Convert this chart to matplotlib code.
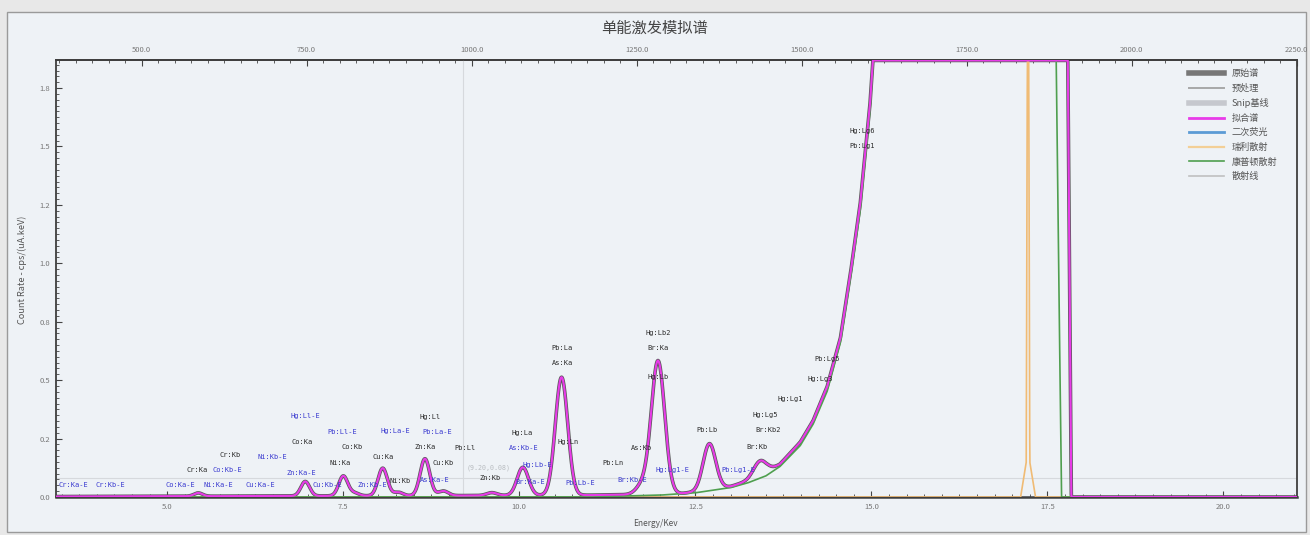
import numpy as np
import matplotlib
matplotlib.use('Agg')
import matplotlib.pyplot as plt
from matplotlib.patches import Rectangle
from matplotlib.lines import Line2D
from matplotlib.ticker import MultipleLocator, FixedLocator, FormatStrFormatter

plt.rcParams['font.family'] = ['Noto Sans CJK SC', 'DejaVu Sans']

# ---------------- data ----------------
# fitted peaks: energy (keV), height above background, width (sigma, keV)
peak_energy = [5.44, 6.96, 7.50, 7.66, 8.06, 8.28, 8.66, 8.92, 9.61, 10.05, 10.60, 11.75, 11.97, 12.70, 13.42]
peak_height = [0.014, 0.062, 0.085, 0.012, 0.118, 0.015, 0.158, 0.020, 0.012, 0.120, 0.505, 0.040, 0.570, 0.200, 0.065]
peak_sigma = [0.060, 0.062, 0.064, 0.064, 0.066, 0.066, 0.068, 0.070, 0.072, 0.080, 0.088, 0.090, 0.095, 0.090, 0.095]

# continuum under the peaks (keV, cps/(uA.keV))
bg_energy = [3.42, 9.0, 11.0, 12.0, 12.3, 12.75, 13.0, 13.24, 13.5, 13.70, 13.99, 14.17, 14.37,
             14.56, 14.70, 14.84, 14.98, 15.05, 15.2, 17.76, 17.84, 21.05]
bg_value = [0.002, 0.006, 0.008, 0.012, 0.015, 0.030, 0.045, 0.068, 0.100, 0.140, 0.235, 0.325, 0.470,
            0.680, 0.950, 1.250, 1.680, 2.000, 3.000, 3.000, 0.000, 0.000]

# Compton scattering
compton_energy = [3.42, 11.0, 12.0, 12.5, 13.0, 13.24, 13.5, 13.70, 13.99, 14.17, 14.37, 14.56,
                  14.70, 14.84, 14.98, 15.05, 15.2, 17.58, 17.70, 21.05]
compton_value = [0.0, 0.0, 0.008, 0.018, 0.040, 0.060, 0.090, 0.130, 0.220, 0.310, 0.450, 0.660,
                 0.930, 1.220, 1.650, 2.000, 3.000, 3.000, 0.000, 0.000]

# Rayleigh scattering
rayleigh_energy = [3.42, 17.12, 17.20, 17.225, 17.25, 17.33, 21.05]
rayleigh_value = [0.0, 0.0, 0.15, 3.0, 0.15, 0.0, 0.0]

# element line labels (black)
line_names = ['Cr:Ka', 'Cr:Kb', 'Co:Ka', 'Ni:Ka', 'Co:Kb', 'Cu:Ka', 'Ni:Kb', 'Zn:Ka', 'Hg:Ll', 'Cu:Kb',
              'Pb:Ll', 'Zn:Kb', 'Hg:La', 'Pb:La', 'As:Ka', 'Hg:Ln', 'Pb:Ln', 'As:Kb', 'Hg:Lb2', 'Br:Ka',
              'Hg:Lb', 'Pb:Lb', 'Br:Kb', 'Br:Kb2', 'Hg:Lg5', 'Hg:Lg1', 'Pb:Lg5', 'Hg:Lg3', 'Hg:Lg6', 'Pb:Lg1']
line_label_e = [5.42, 5.89, 6.91, 7.45, 7.62, 8.06, 8.31, 8.66, 8.73, 8.92,
                9.23, 9.58, 10.04, 10.61, 10.61, 10.70, 11.33, 11.74, 11.97, 11.97,
                11.97, 12.67, 13.38, 13.53, 13.49, 13.85, 14.37, 14.27, 14.87, 14.87]
line_label_y = [0.116, 0.180, 0.235, 0.145, 0.214, 0.171, 0.068, 0.214, 0.342, 0.145,
                0.210, 0.081, 0.274, 0.638, 0.573, 0.235, 0.145, 0.210, 0.702, 0.638,
                0.513, 0.287, 0.214, 0.287, 0.351, 0.419, 0.590, 0.505, 1.566, 1.502]

# escape peak labels (blue)
esc_names = ['Cr:Ka-E', 'Cr:Kb-E', 'Co:Ka-E', 'Ni:Ka-E', 'Cu:Ka-E', 'Co:Kb-E', 'Ni:Kb-E', 'Zn:Ka-E',
             'Hg:Ll-E', 'Cu:Kb-E', 'Pb:Ll-E', 'Zn:Kb-E', 'Hg:La-E', 'Pb:La-E', 'As:Ka-E', 'As:Kb-E',
             'Hg:Lb-E', 'Br:Ka-E', 'Pb:Lb-E', 'Br:Kb-E', 'Hg:Lg1-E', 'Pb:Lg1-E']
esc_label_e = [3.66, 4.19, 5.18, 5.72, 6.32, 5.85, 6.49, 6.91,
               6.96, 7.28, 7.48, 7.92, 8.24, 8.83, 8.80, 10.06,
               10.26, 10.15, 10.86, 11.60, 12.18, 13.11]
esc_label_y = [0.051, 0.051, 0.051, 0.051, 0.051, 0.116, 0.171, 0.103,
               0.347, 0.051, 0.278, 0.051, 0.282, 0.278, 0.073, 0.210,
               0.137, 0.064, 0.060, 0.073, 0.116, 0.116]

legend_labels = ['原始谱', '预处理', 'Snip基线', '拟合谱', '二次荧光', '瑞利散射', '康普顿散射', '散射线']

cursor_energy = 9.20
cursor_value = 0.08

top_ticks = [500, 750, 1000, 1250, 1500, 1750, 2000, 2250]

x_min, x_max = 3.42, 21.045
y_max = 1.87
ch_gain, ch_offset = 0.009373, -0.0495   # E = gain*channel + offset

# ---------------- build curves ----------------
E = np.linspace(x_min, x_max, 6000)
fit = np.interp(E, bg_energy, bg_value)
for c, h, s in zip(peak_energy, peak_height, peak_sigma):
    fit = fit + h * np.exp(-0.5 * ((E - c) / s) ** 2)
raw = fit.copy()
compton = np.interp(E, compton_energy, compton_value)
rayleigh = np.interp(E, rayleigh_energy, rayleigh_value)

top = y_max * 0.999
clip = lambda v: np.minimum(v, top)

# ---------------- figure ----------------
fig = plt.figure(figsize=(13.1, 5.35), dpi=100)
fig.patch.set_facecolor('#e8e8e8')
fig.add_artist(Rectangle((7 / 1310, 3 / 535), 1299 / 1310, 520 / 535, transform=fig.transFigure,
                         facecolor='#eef2f6', edgecolor='#9a9a9a', linewidth=1.0, zorder=-5))

ax = fig.add_axes([56 / 1310, 38 / 535, 1241 / 1310, 437 / 535])
ax.set_facecolor('#eef2f6')

ax.axvline(cursor_energy, color='#d6d9dd', lw=0.8, zorder=1)
ax.axhline(cursor_value, color='#d6d9dd', lw=0.8, zorder=1)
ax.text(cursor_energy + 0.05, cursor_value + 0.045, '(%.2f,%.2f)' % (cursor_energy, cursor_value),
        fontsize=4.8, color='#b8bcc0', family='DejaVu Sans Mono', ha='left', va='center')

l_raw, = ax.plot(E, clip(raw), color='#5a5a5a', lw=2.6, zorder=2, solid_capstyle='butt')
l_pre, = ax.plot([], [], color='#a8a8a8', lw=1.4)
l_snip, = ax.plot([], [], color='#c6c8ce', lw=4)
l_ray, = ax.plot(E, clip(rayleigh), color='#f0bb74', lw=1.2, zorder=3)
l_comp, = ax.plot(E, clip(compton), color='#4f9f4f', lw=1.2, zorder=3)
l_fit, = ax.plot(E, clip(fit), color='#e83be8', lw=1.5, zorder=4)
l_sec, = ax.plot([], [], color='#5b9bd5', lw=1.8)
l_sca, = ax.plot([], [], color='#c0c0c0', lw=1.2)

for n, x, y in zip(line_names, line_label_e, line_label_y):
    ax.text(x, y, n, fontsize=5, family='DejaVu Sans Mono', color='#2a2a2a',
            ha='center', va='center', zorder=6)
for n, x, y in zip(esc_names, esc_label_e, esc_label_y):
    ax.text(x, y, n, fontsize=5, family='DejaVu Sans Mono', color='#3a3ad0',
            ha='center', va='center', zorder=6)

ax.set_xlim(x_min, x_max)
ax.set_ylim(0, y_max)
ax.xaxis.set_major_locator(MultipleLocator(2.5))
ax.xaxis.set_minor_locator(MultipleLocator(0.25))
ax.yaxis.set_major_locator(MultipleLocator(0.25))
ax.yaxis.set_minor_locator(MultipleLocator(0.025))
ax.xaxis.set_major_formatter(FormatStrFormatter('%.1f'))
ax.yaxis.set_major_formatter(FormatStrFormatter('%.1f'))
ax.tick_params(which='both', direction='in', colors='#444444', labelcolor='#777777',
               labelsize=5.5, top=False, right=False)
ax.tick_params(which='major', length=4, width=0.8, pad=4)
ax.tick_params(which='minor', length=2, width=0.6)
for sp in ax.spines.values():
    sp.set_color('#3e3e3e')
    sp.set_linewidth(1.3)
ax.spines['bottom'].set_linewidth(1.8)

sec = ax.secondary_xaxis('top', functions=(lambda e: (e - ch_offset) / ch_gain,
                                            lambda ch: ch * ch_gain + ch_offset))
sec.xaxis.set_major_locator(FixedLocator(top_ticks))
sec.xaxis.set_minor_locator(MultipleLocator(25))
sec.xaxis.set_major_formatter(FormatStrFormatter('%.1f'))
sec.tick_params(which='both', direction='in', colors='#444444', labelcolor='#777777', labelsize=5.5)
sec.tick_params(which='major', length=4, width=0.8, pad=4)
sec.tick_params(which='minor', length=2, width=0.6)
sec.spines['top'].set_color('#3e3e3e')
sec.spines['top'].set_linewidth(1.3)

leg_handles = [Line2D([], [], color='#777777', lw=4),
               Line2D([], [], color='#a8a8a8', lw=1.4),
               Line2D([], [], color='#c6c8ce', lw=4),
               Line2D([], [], color='#e83be8', lw=2),
               Line2D([], [], color='#5b9bd5', lw=2),
               Line2D([], [], color='#f3cf96', lw=1.6),
               Line2D([], [], color='#4f9f4f', lw=1.2),
               Line2D([], [], color='#c0c0c0', lw=1.2)]
leg = ax.legend(leg_handles, legend_labels, loc='upper right', bbox_to_anchor=(0.989, 0.994),
                frameon=False, fontsize=6.6, handlelength=3.8, handletextpad=0.8,
                labelspacing=0.6, borderaxespad=0.3)
for t in leg.get_texts():
    t.set_color('#555555')

fig.text(655 / 1310, 1 - 28 / 535, '单能激发模拟谱', fontsize=11, color='#444444',
         ha='center', va='center')
fig.text(22 / 1310, 1 - 270 / 535, 'Count Rate - cps/(uA.keV)', fontsize=6.6, color='#555555',
         rotation=90, ha='center', va='center')
fig.text(655 / 1310, 1 - 523 / 535, 'Energy/Kev', fontsize=6, color='#555555',
         ha='center', va='center')

fig.savefig('out.png', dpi=100, facecolor=fig.get_facecolor())
